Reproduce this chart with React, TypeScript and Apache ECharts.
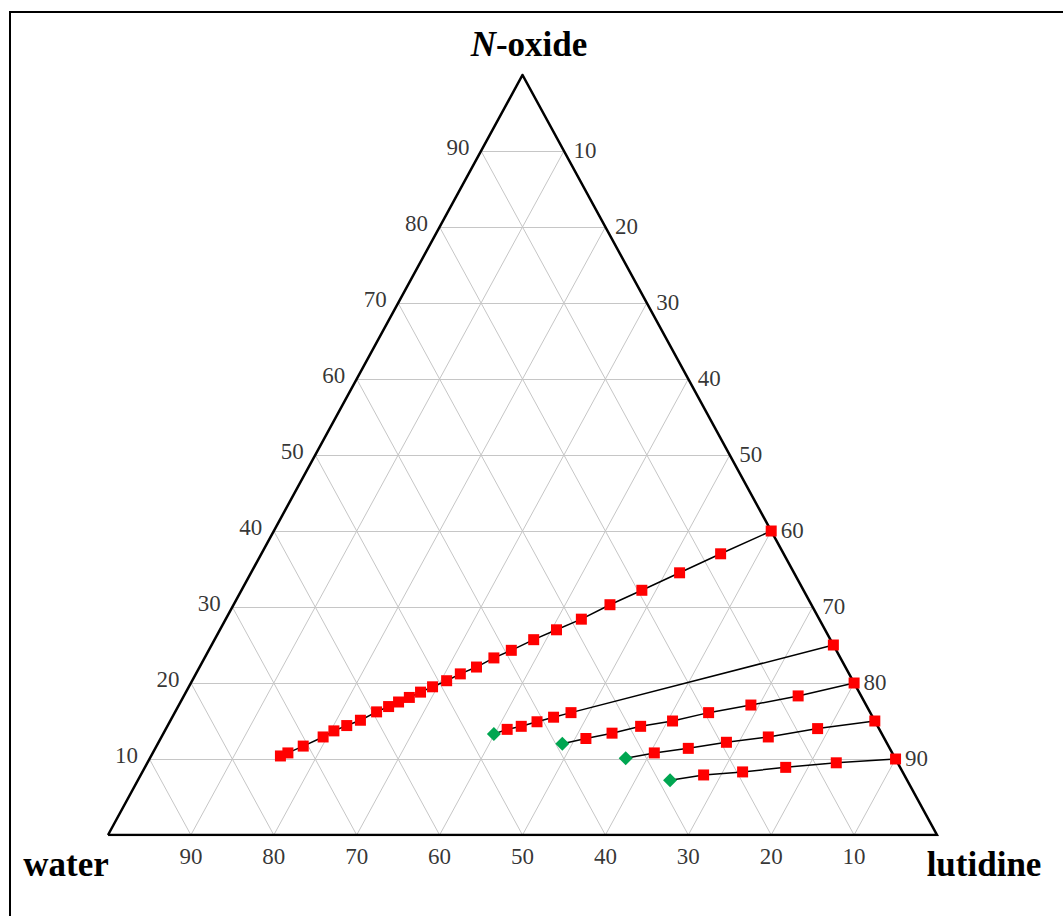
import React, { useEffect, useRef } from "react";
import * as echarts from "echarts";

// Ternary data: each point is [lutidine %, N-oxide %] (water = 100 - both)
const TICKS = [10, 20, 30, 40, 50, 60, 70, 80, 90];
const leftTickLabels = ["10", "20", "30", "40", "50", "60", "70", "80", "90"]; // N-oxide
const rightTickLabels = ["10", "20", "30", "40", "50", "60", "70", "80", "90"]; // lutidine
const bottomTickLabels = ["10", "20", "30", "40", "50", "60", "70", "80", "90"]; // water

const tieLine1Red = [
  [15.6, 10.4], [16.3, 10.8], [17.7, 11.7], [19.5, 12.9], [20.4, 13.7], [21.6, 14.4],
  [22.9, 15.1], [24.3, 16.2], [25.4, 16.9], [26.3, 17.5], [27.3, 18.1], [28.3, 18.8],
  [29.4, 19.5], [30.7, 20.3], [31.9, 21.2], [33.4, 22.1], [34.9, 23.3], [36.5, 24.3],
  [38.5, 25.7], [40.6, 27.0], [42.9, 28.4], [45.4, 30.3], [48.3, 32.2], [51.7, 34.5],
  [55.4, 37.0], [60.0, 40.0],
];
const tieLine2Green = [[39.9, 13.3]];
const tieLine2Red = [[41.2, 13.9], [42.7, 14.3], [44.3, 14.9], [46.0, 15.5], [47.8, 16.1], [75.0, 25.0]];
const tieLine3Green = [[48.8, 12.0]];
const tieLine3Red = [[51.3, 12.7], [54.1, 13.4], [57.1, 14.3], [60.6, 15.0], [64.4, 16.1], [69.0, 17.1], [74.1, 18.3], [80.0, 20.0]];
const tieLine4Green = [[57.4, 10.1]];
const tieLine4Red = [[60.5, 10.8], [64.3, 11.4], [68.5, 12.2], [73.2, 12.9], [78.6, 14.0], [85.0, 15.0]];
const tieLine5Green = [[64.2, 7.2]];
const tieLine5Red = [[67.9, 7.9], [72.4, 8.3], [77.3, 8.9], [83.1, 9.5], [90.0, 10.0]];

const FONT = "'Liberation Serif', 'Times New Roman', serif";

const toXY = (p: number[]) => [p[0] + p[1] / 2, p[1]];

export default function App() {
  const ref = useRef<HTMLDivElement>(null);
  useEffect(() => {
    if (!ref.current) return;
    const chart = echarts.init(ref.current, undefined, { renderer: "svg" });

    const gridLines: any[] = [];
    TICKS.forEach((v) => {
      gridLines.push({ coords: [toXY([0, v]), toXY([100 - v, v])] });
      gridLines.push({ coords: [toXY([v, 0]), toXY([v, 100 - v])] });
      gridLines.push({ coords: [toXY([100 - v, 0]), toXY([0, 100 - v])] });
    });

    const tieLines = [
      [...tieLine1Red],
      [...tieLine2Green, ...tieLine2Red],
      [...tieLine3Green, ...tieLine3Red],
      [...tieLine4Green, ...tieLine4Red],
      [...tieLine5Green, ...tieLine5Red],
    ];
    const allRed = [...tieLine1Red, ...tieLine2Red, ...tieLine3Red, ...tieLine4Red, ...tieLine5Red];
    const allGreen = [...tieLine2Green, ...tieLine3Green, ...tieLine4Green, ...tieLine5Green];

    const tickLabelStyle = { fontFamily: FONT, fontSize: 23, color: "#000" };

    const series: any[] = [
      {
        type: "lines",
        coordinateSystem: "cartesian2d",
        silent: true,
        data: gridLines,
        lineStyle: { color: "#c6c6c6", width: 1, opacity: 1 },
        z: 1,
      },
      {
        type: "line",
        silent: true,
        data: [toXY([0, 0]), toXY([100, 0]), toXY([0, 100]), toXY([0, 0])],
        symbol: "none",
        lineStyle: { color: "#000", width: 2.5, join: "miter" },
        z: 2,
      },
      ...tieLines.map((pts) => ({
        type: "line",
        silent: true,
        data: pts.map(toXY),
        symbol: "none",
        lineStyle: { color: "#000", width: 1.5 },
        z: 3,
      })),
      {
        type: "scatter",
        silent: true,
        data: allRed.map(toXY),
        symbol: "rect",
        symbolSize: 11,
        itemStyle: { color: "#ff0000", opacity: 1 },
        z: 4,
      },
      {
        type: "scatter",
        silent: true,
        data: allGreen.map(toXY),
        symbol: "diamond",
        symbolSize: [14, 14],
        itemStyle: { color: "#00a651", opacity: 1 },
        z: 4,
      },
      {
        type: "scatter",
        silent: true,
        data: TICKS.map((v, i) => ({ value: toXY([0, v]), name: leftTickLabels[i] })),
        symbolSize: 1,
        itemStyle: { color: "transparent" },
        label: { show: true, position: "left", distance: 11, offset: [0, -4], formatter: "{b}", ...tickLabelStyle },
        z: 5,
      },
      {
        type: "scatter",
        silent: true,
        data: TICKS.map((v, i) => ({ value: toXY([v, 100 - v]), name: rightTickLabels[i] })),
        symbolSize: 1,
        itemStyle: { color: "transparent" },
        label: { show: true, position: "right", distance: 9, offset: [0, -1], formatter: "{b}", ...tickLabelStyle },
        z: 5,
      },
      {
        type: "scatter",
        silent: true,
        data: TICKS.map((v, i) => ({ value: toXY([100 - v, 0]), name: bottomTickLabels[i] })),
        symbolSize: 1,
        itemStyle: { color: "transparent" },
        label: { show: true, position: "bottom", distance: 9, formatter: "{b}", ...tickLabelStyle },
        z: 5,
      },
    ];

    chart.setOption({
      animation: false,
      backgroundColor: "#fff",
      grid: { left: 108, right: 126, top: 75, bottom: 81 },
      xAxis: { type: "value", min: 0, max: 100, show: false },
      yAxis: { type: "value", min: 0, max: 100, show: false },
      series,
      graphic: [
        {
          type: "rect",
          shape: { x: 10, y: 12, width: 1200, height: 1100 },
          style: { fill: "none", stroke: "#000", lineWidth: 2 },
          silent: true,
          z: 0,
        },
        {
          type: "text",
          x: 529,
          y: 44,
          style: {
            text: "{i|N}-oxide",
            fontFamily: FONT,
            fontSize: 35,
            fontWeight: "bold",
            fill: "#000",
            align: "center",
            verticalAlign: "middle",
            rich: { i: { fontFamily: FONT, fontSize: 35, fontWeight: "bold", fontStyle: "italic" } },
          },
          silent: true,
          z: 10,
        },
        {
          type: "text",
          x: 66,
          y: 864,
          style: {
            text: "water",
            fontFamily: FONT,
            fontSize: 35,
            fontWeight: "bold",
            fill: "#000",
            align: "center",
            verticalAlign: "middle",
          },
          silent: true,
          z: 10,
        },
        {
          type: "text",
          x: 984,
          y: 864,
          style: {
            text: "lutidine",
            fontFamily: FONT,
            fontSize: 35,
            fontWeight: "bold",
            fill: "#000",
            align: "center",
            verticalAlign: "middle",
          },
          silent: true,
          z: 10,
        },
      ],
    });
    return () => chart.dispose();
  }, []);
  return <div ref={ref} style={{ position: "absolute", left: 0, top: 0, width: 1063, height: 916 }} />;
}
